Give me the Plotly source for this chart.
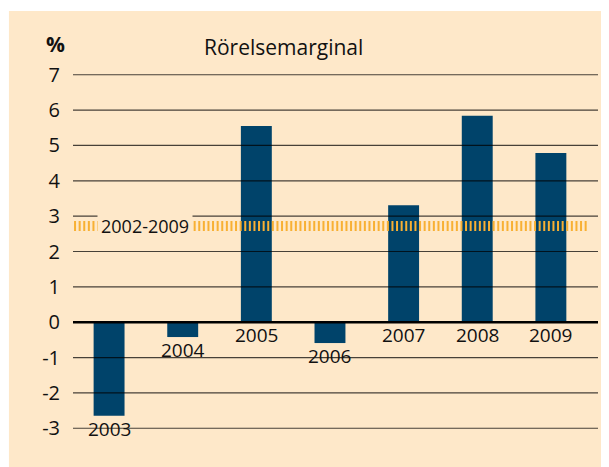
import plotly.graph_objects as go

years = [2003, 2004, 2005, 2006, 2007, 2008, 2009]
margin_pct = [-2.65, -0.42, 5.55, -0.59, 3.31, 5.84, 4.79]
avg_2002_2009 = 2.72
avg_label = "2002-2009"
y_ticks = [-3, -2, -1, 0, 1, 2, 3, 4, 5, 6, 7]
title_text = "Rörelsemarginal"
unit_text = "%"

BAR = "#00436A"
BEIGE = "#FEE8C9"
ORANGE = "#F8B033"
FONT = "Open Sans"

fig = go.Figure()
fig.add_trace(go.Bar(x=years, y=margin_pct, marker=dict(color=BAR, line=dict(width=0)),
                     width=0.42, showlegend=False, hoverinfo="skip"))

shapes = [
    dict(type="rect", xref="paper", yref="paper", x0=-0.122, x1=1.05, y0=-0.15, y1=1.174,
         fillcolor=BEIGE, line=dict(width=0), layer="below"),
]
for t in y_ticks:
    shapes.append(dict(type="line", xref="paper", yref="y", x0=0, x1=1, y0=t, y1=t,
                       line=dict(color="#000000" if t == 0 else "rgba(0,0,0,0.72)",
                                 width=2.5 if t == 0 else 1.2),
                       layer="above"))
shapes.append(dict(type="line", xref="paper", yref="y", x0=0.002, x1=0.981,
                   y0=avg_2002_2009, y1=avg_2002_2009,
                   line=dict(color=ORANGE, width=10, dash="2px,2.6px"), layer="above"))

annotations = [
    dict(text=avg_label, xref="paper", yref="y", x=0.137, y=avg_2002_2009, showarrow=False,
         font=dict(family=FONT, size=18, color="#111"), bgcolor=BEIGE, borderpad=3,
         xanchor="center", yanchor="middle"),
    dict(text=f"<b>{unit_text}</b>", xref="paper", yref="paper", x=-0.012, y=1.082, showarrow=False,
         font=dict(family=FONT, size=21, color="#111"), xanchor="right", yanchor="middle"),
    dict(text=title_text, xref="paper", yref="paper", x=0.40, y=1.074, showarrow=False,
         font=dict(family=FONT, size=21, color="#111"), xanchor="center", yanchor="middle"),
]
for yr, v in zip(years, margin_pct):
    annotations.append(dict(text=str(yr), x=yr, y=min(v, 0), xref="x", yref="y", showarrow=False,
                            yshift=-13, yanchor="middle", xanchor="center",
                            font=dict(family=FONT, size=19, color="#111")))

fig.update_layout(
    width=601, height=459,
    margin=dict(l=65, r=11, t=65, b=37),
    paper_bgcolor="white", plot_bgcolor="rgba(0,0,0,0)",
    shapes=shapes, annotations=annotations,
    font=dict(family=FONT, size=19, color="#111"),
    xaxis=dict(range=[2002.51, 2009.64], showgrid=False, showticklabels=False,
               zeroline=False, showline=False, ticks=""),
    yaxis=dict(range=[-3.05, 7.05], tickvals=y_ticks, ticktext=[str(t) for t in y_ticks],
               showgrid=False, zeroline=False, showline=False,
               ticks="outside", ticklen=8, tickcolor="rgba(0,0,0,0)",
               tickfont=dict(family=FONT, size=20, color="#111")),
)

fig.write_html("out.html")
